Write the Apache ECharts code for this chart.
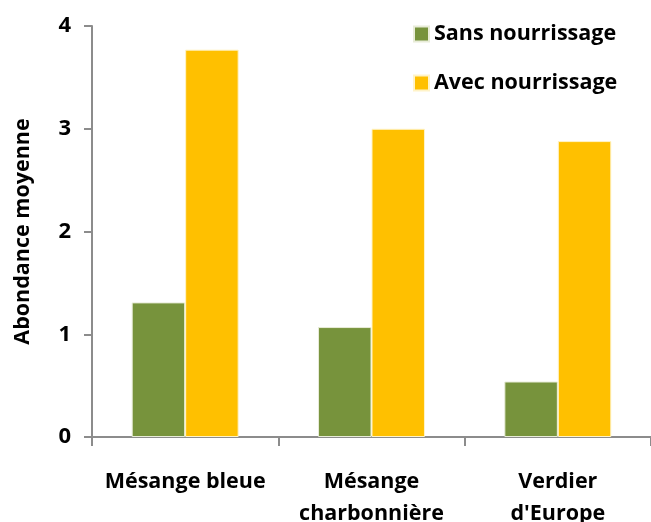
<!DOCTYPE html>
<html><head><meta charset="utf-8">
<script src="https://cdn.jsdelivr.net/npm/echarts@6/dist/echarts.min.js"></script>
<style>html,body{margin:0;padding:0;background:#fff}#c{width:651px;height:522px}</style>
</head><body><div id="c"></div>
<script>
const categories = ['Mésange bleue', 'Mésange\ncharbonnière', 'Verdier\nd\'Europe'];
const sansNourrissage = [1.31, 1.07, 0.54];
const avecNourrissage = [3.77, 3.00, 2.88];
const seriesNames = ['Sans nourrissage', 'Avec nourrissage'];
const yTicks = [0, 1, 2, 3, 4];

const FONT = '"Open Sans", "Liberation Sans", sans-serif';
const chart = echarts.init(document.getElementById('c'), null, {renderer: 'canvas'});
chart.setOption({
  animation: false,
  backgroundColor: '#fff',
  textStyle: {fontFamily: FONT},
  legend: {
    orient: 'vertical', left: 408, top: 18, itemWidth: 15, itemHeight: 15, itemGap: 27,
    icon: 'rect',
    textStyle: {fontSize: 21.5, fontWeight: 'bold', color: '#000', fontFamily: FONT},
    data: seriesNames
  },
  grid: {left: 92, right: 0, top: 26, bottom: 85, containLabel: false, outerBoundsMode: 'none'},
  xAxis: {
    type: 'category', data: categories,
    axisLine: {lineStyle: {color: '#8c8c8c', width: 2}},
    axisTick: {show: true, length: 9, lineStyle: {color: '#8c8c8c', width: 2}},
    axisLabel: {fontSize: 21.5, fontWeight: 'bold', color: '#000', margin: 29, lineHeight: 32, fontFamily: FONT, interval: 0}
  },
  yAxis: {
    type: 'value', min: 0, max: 4, interval: 1,
    name: 'Abondance moyenne', nameLocation: 'middle', nameGap: 58,
    nameTextStyle: {fontSize: 21.5, fontWeight: 'bold', color: '#000', fontFamily: FONT},
    axisLine: {show: true, lineStyle: {color: '#8c8c8c', width: 2}},
    axisTick: {show: true, length: 8, lineStyle: {color: '#8c8c8c', width: 2}},
    splitLine: {show: false},
    axisLabel: {fontSize: 22, fontWeight: 'bold', color: '#000', margin: 21, fontFamily: FONT,
      formatter: v => yTicks.includes(v) ? String(v) : ''}
  },
  series: [
    {name: seriesNames[0], type: 'bar', data: sansNourrissage, barGap: '0%', barCategoryGap: '42.6%',
     itemStyle: {color: '#77933C', borderColor: '#e8ecd8', borderWidth: 1}},
    {name: seriesNames[1], type: 'bar', data: avecNourrissage, barGap: '0%', barCategoryGap: '42.6%',
     itemStyle: {color: '#FFC000', borderColor: '#fff3c8', borderWidth: 1}}
  ]
});
</script></body></html>
